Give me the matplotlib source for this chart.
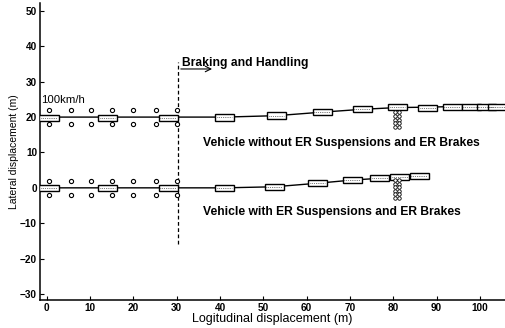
import matplotlib
matplotlib.use("Agg")
import matplotlib.pyplot as plt
from matplotlib.patches import Rectangle

plt.rcParams['font.family'] = ['Liberation Sans', 'DejaVu Sans']

# Data
x_ticks = [0, 10, 20, 30, 40, 50, 60, 70, 80, 90, 100]
y_ticks = [-30, -20, -10, 0, 10, 20, 30, 40, 50]

upper_track_x = [-1.6, 30, 41, 53, 63.6, 72.8, 81, 88, 94, 106]
upper_track_y = [20, 20, 20, 20.4, 21.4, 22.2, 22.7, 22.8, 23.0, 23.1]
upper_box_x = [0.5, 14, 28, 41, 53, 63.6, 72.8, 81, 88, 93.6, 98, 101.5, 104]
upper_box_y = [19.8, 19.8, 19.8, 19.9, 20.4, 21.5, 22.2, 22.8, 22.6, 22.8, 22.8, 22.9, 22.9]

lower_track_x = [-1.6, 30, 41, 52.5, 62.5, 70.5, 76.9, 81.5, 86, 88]
lower_track_y = [0, 0, 0, 0.3, 1.3, 2.2, 2.7, 3.0, 3.4, 3.5]
lower_box_x = [0.5, 14, 28, 41, 52.5, 62.5, 70.5, 76.9, 81.5, 86]
lower_box_y = [0, 0, 0, 0, 0.3, 1.3, 2.2, 2.7, 3.0, 3.4]

wheel_x = [0.5, 5.5, 10.2, 15, 20, 25.2, 30]
upper_wheel_y = [22, 18]
lower_wheel_y = [1.8, -2]

stack_x = [80.5, 81.3]
upper_stack_y = [21.3, 20.3, 19.3, 18.3, 17.3]
lower_stack_y = [2.2, 1.2, 0.2, -0.8, -1.8, -2.8]

brake_x = 30.3
brake_y = [-16, 35.7]

box_len = 4.4
box_h = 1.8

fig = plt.figure(figsize=(5.05, 3.28), dpi=100)
ax = fig.add_axes([0.079, 0.0854, 0.921, 0.906])

ax.plot(upper_track_x, upper_track_y, color='black', lw=1.0, zorder=2)
ax.plot(lower_track_x, lower_track_y, color='black', lw=1.0, zorder=2)

for bx, by in list(zip(upper_box_x, upper_box_y)) + list(zip(lower_box_x, lower_box_y)):
    ax.add_patch(Rectangle((bx - box_len / 2, by - box_h / 2), box_len, box_h,
                           facecolor='white', edgecolor='black', lw=1.0, zorder=3))
    ax.plot([bx - box_len / 2 + 0.4, bx + box_len / 2 - 0.4], [by, by],
            color='black', lw=0.5, ls=':', zorder=4)

for wy in upper_wheel_y + lower_wheel_y:
    ax.plot(wheel_x, [wy] * len(wheel_x), ls='none', marker='o', ms=3,
            mfc='white', mec='black', mew=0.8, zorder=3)

for sx in stack_x:
    ax.plot([sx] * len(upper_stack_y), upper_stack_y, ls='none', marker='o', ms=2.5,
            mfc='white', mec='black', mew=0.6, zorder=3)
    ax.plot([sx] * len(lower_stack_y), lower_stack_y, ls='none', marker='o', ms=2.5,
            mfc='white', mec='black', mew=0.6, zorder=3)

ax.plot([brake_x, brake_x], brake_y, color='black', lw=0.9, ls=(0, (3, 2)), zorder=2)
ax.annotate('', xy=(38.8, 33.6), xytext=(brake_x, 33.6),
            arrowprops=dict(arrowstyle='->', color='black', lw=0.8))

ax.text(31.2, 35.2, 'Braking and Handling', fontsize=8.7, fontweight='bold',
        va='center', ha='left')
ax.text(-1.3, 23.4, '100km/h', fontsize=8.2, va='bottom', ha='left')
ax.text(36, 12.6, 'Vehicle without ER Suspensions and ER Brakes', fontsize=8.7,
        fontweight='bold', va='center', ha='left')
ax.text(36, -6.9, 'Vehicle with ER Suspensions and ER Brakes', fontsize=8.7,
        fontweight='bold', va='center', ha='left')

ax.set_xlim(-1.6, 105.8)
ax.set_ylim(-31.7, 52.3)
ax.set_xticks(x_ticks)
ax.set_yticks(y_ticks)
ax.tick_params(direction='in', length=3, width=0.8, labelsize=7.2, pad=2)
for lab in ax.get_xticklabels() + ax.get_yticklabels():
    lab.set_fontweight('bold')
for s in ['top', 'right']:
    ax.spines[s].set_visible(False)
for s in ['left', 'bottom']:
    ax.spines[s].set_linewidth(1.1)

ax.set_xlabel('Logitudinal displacement (m)', fontsize=9, labelpad=0)
ax.set_ylabel('Lateral displacement (m)', fontsize=7.5, labelpad=1)

fig.savefig('out.png', dpi=100)
